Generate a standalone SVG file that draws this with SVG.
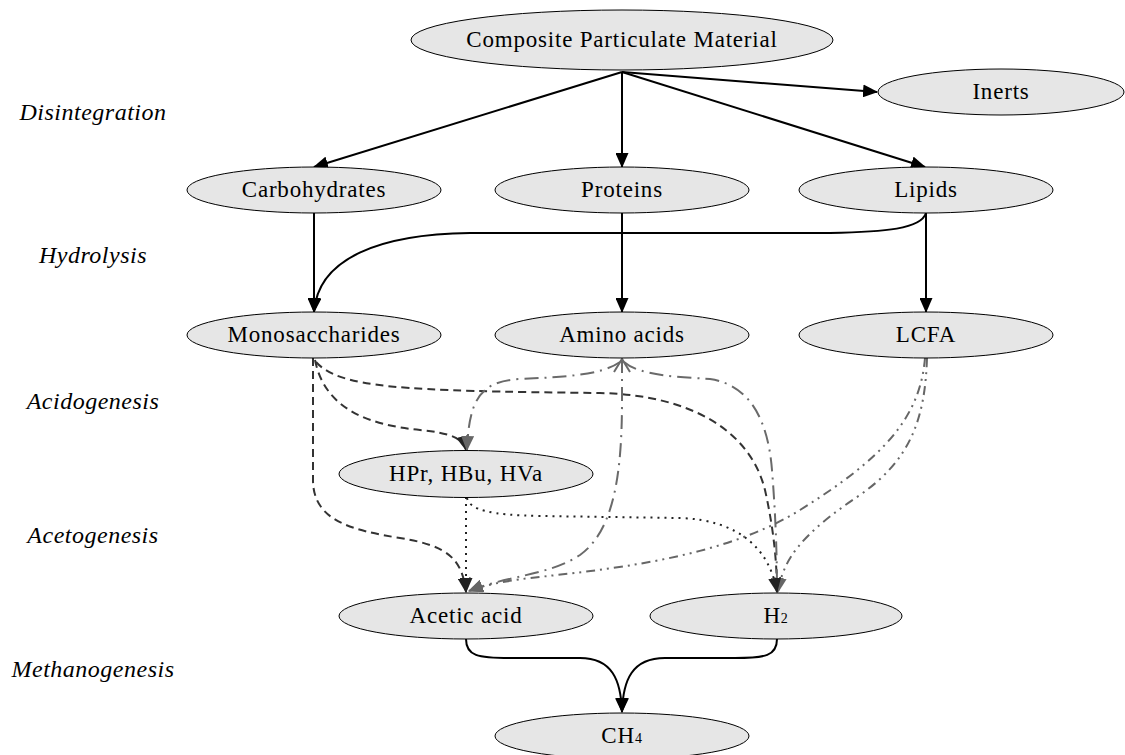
<svg xmlns="http://www.w3.org/2000/svg" width="1125" height="755" viewBox="0 0 1125 755">
  <style>
    .node ellipse { fill: #e6e6e6; stroke: #000; stroke-width: 1; }
    .node text { font-family: "Liberation Serif", "DejaVu Serif", serif; font-size: 23px; letter-spacing: 0.8px; fill: #000; text-anchor: middle; }
    .stage { font-family: "Liberation Serif", "DejaVu Serif", serif; font-style: italic; font-size: 24px; letter-spacing: 0.5px; fill: #000; text-anchor: middle; }
    .e { fill: none; stroke-width: 2; }
    .solid { stroke: #000; marker-end: url(#ah-black); }
    .dash { stroke: #333; stroke-dasharray: 8 5; marker-end: url(#ah-dark); }
    .dashdot { stroke: #6a6a6a; stroke-dasharray: 14 6 2 6; marker-end: url(#ah-gray); }
    .dashdotdot { stroke: #666; stroke-dasharray: 9 5 2 5 2 5; marker-end: url(#ah-gray); }
    .dot { stroke: #222; stroke-dasharray: 2 5; marker-end: url(#ah-dark); }
  </style>
  <defs>
    <marker id="ah-black" markerUnits="userSpaceOnUse" markerWidth="15" markerHeight="13" refX="14" refY="6.5" orient="auto" viewBox="0 0 15 13">
      <path d="M0,0 L15,6.5 L0,13 z" fill="#000"/>
    </marker>
    <marker id="ah-dark" markerUnits="userSpaceOnUse" markerWidth="15" markerHeight="13" refX="14" refY="6.5" orient="auto" viewBox="0 0 15 13">
      <path d="M0,0 L15,6.5 L0,13 z" fill="#222"/>
    </marker>
    <marker id="ah-gray" markerUnits="userSpaceOnUse" markerWidth="15" markerHeight="13" refX="14" refY="6.5" orient="auto" viewBox="0 0 15 13">
      <path d="M0,0 L15,6.5 L0,13 z" fill="#666"/>
    </marker>
    <marker id="vee-open" markerUnits="userSpaceOnUse" markerWidth="16" markerHeight="18" refX="14" refY="9" orient="auto-start-reverse" viewBox="0 0 16 18">
      <path d="M1,1 L14,9 L1,17" fill="none" stroke="#6a6a6a" stroke-width="2"/>
    </marker>
  </defs>

  <!-- process stage labels -->
  <g id="stages">
    <text class="stage" x="93" y="120">Disintegration</text>
    <text class="stage" x="93" y="263">Hydrolysis</text>
    <text class="stage" x="93" y="409">Acidogenesis</text>
    <text class="stage" x="93" y="543">Acetogenesis</text>
    <text class="stage" x="93" y="677">Methanogenesis</text>
  </g>

  <!-- connectors -->
  <g id="connectors">
    <!-- disintegration -->
    <path class="e solid" d="M622,72 L314,167"/>
    <path class="e solid" d="M622,72 L622,167"/>
    <path class="e solid" d="M622,72 L925,167"/>
    <path class="e solid" d="M622,72 L877,92"/>
    <!-- hydrolysis -->
    <path class="e solid" d="M314,213 L314,312"/>
    <path class="e solid" d="M622,213 L622,312"/>
    <path class="e solid" d="M926,213 L926,312"/>
    <path class="e solid" d="M926,213 C921,229 885,232 830,233 L470,233 C380,234 318,258 314,312"/>
    <!-- monosaccharides -->
    <path class="e dash" d="M315,360 C325,410 370,425 420,430 C450,433 463,438 466,450"/>
    <path class="e dash" d="M313,358 L313,480 C313,520 350,530 400,538 C450,546 462,560 466,592"/>
    <path class="e dash" d="M316,362 C340,388 400,391 600,393 C690,395 750,430 765,490 C774,530 777,565 777,592"/>
    <!-- amino acids -->
    <path class="e dashdot" d="M620,362 C600,376 560,377 520,379 C480,381 469,400 467,450"/>
    <path class="e dashdot" d="M624,362 C640,376 680,377 710,379 C750,385 768,420 772,470 C776,520 777,560 777,592"/>
    <path class="e dashdot" style="marker-start:url(#vee-open)" d="M622,359 L622,400 C622,470 615,530 580,555 C550,575 510,575 469,591"/>
    <!-- LCFA -->
    <path class="e dashdotdot" d="M925,358 C920,420 880,460 800,510 C720,560 600,570 530,578 C500,582 485,585 469,591"/>
    <path class="e dashdotdot" d="M927,358 C925,420 910,460 860,495 C800,535 783,560 778,592"/>
    <!-- HPr, HBu, HVa -->
    <path class="e dot" d="M466,497 L466,592"/>
    <path class="e dot" d="M467,498 C470,510 490,515 540,516 L680,518 C740,520 770,550 777,592"/>
    <!-- methanogenesis -->
    <path class="e solid" d="M466,639 C466,656 478,658 510,658 L580,658 C612,658 621,680 622,712"/>
    <path class="e solid" d="M777,639 C777,656 765,658 735,658 L665,658 C632,658 623,680 622,712"/>
  </g>

  <!-- nodes -->
  <g id="composite" class="node">
    <ellipse cx="622" cy="40" rx="211" ry="30"/>
    <text x="622" y="47">Composite Particulate Material</text>
  </g>
  <g id="inerts" class="node">
    <ellipse cx="1001" cy="92" rx="123" ry="23"/>
    <text x="1001" y="99">Inerts</text>
  </g>
  <g id="carbohydrates" class="node">
    <ellipse cx="314" cy="190" rx="127" ry="23"/>
    <text x="314" y="197">Carbohydrates</text>
  </g>
  <g id="proteins" class="node">
    <ellipse cx="622" cy="190" rx="127" ry="23"/>
    <text x="622" y="197">Proteins</text>
  </g>
  <g id="lipids" class="node">
    <ellipse cx="926" cy="190" rx="127" ry="23"/>
    <text x="926" y="197">Lipids</text>
  </g>
  <g id="monosaccharides" class="node">
    <ellipse cx="314" cy="335" rx="127" ry="23"/>
    <text x="314" y="342">Monosaccharides</text>
  </g>
  <g id="amino-acids" class="node">
    <ellipse cx="622" cy="335" rx="127" ry="23"/>
    <text x="622" y="342">Amino acids</text>
  </g>
  <g id="lcfa" class="node">
    <ellipse cx="926" cy="335" rx="127" ry="23"/>
    <text x="926" y="342">LCFA</text>
  </g>
  <g id="vfa" class="node">
    <ellipse cx="466" cy="474" rx="127" ry="23.5"/>
    <text x="466" y="481">HPr, HBu, HVa</text>
  </g>
  <g id="acetic-acid" class="node">
    <ellipse cx="466" cy="616" rx="127" ry="23"/>
    <text x="466" y="623">Acetic acid</text>
  </g>
  <g id="h2" class="node">
    <ellipse cx="776" cy="616" rx="126" ry="23"/>
    <text x="776" y="623">H<tspan font-size="14">2</tspan></text>
  </g>
  <g id="ch4" class="node">
    <ellipse cx="622" cy="736" rx="127" ry="23"/>
    <text x="622" y="743">CH<tspan font-size="14">4</tspan></text>
  </g>
</svg>
